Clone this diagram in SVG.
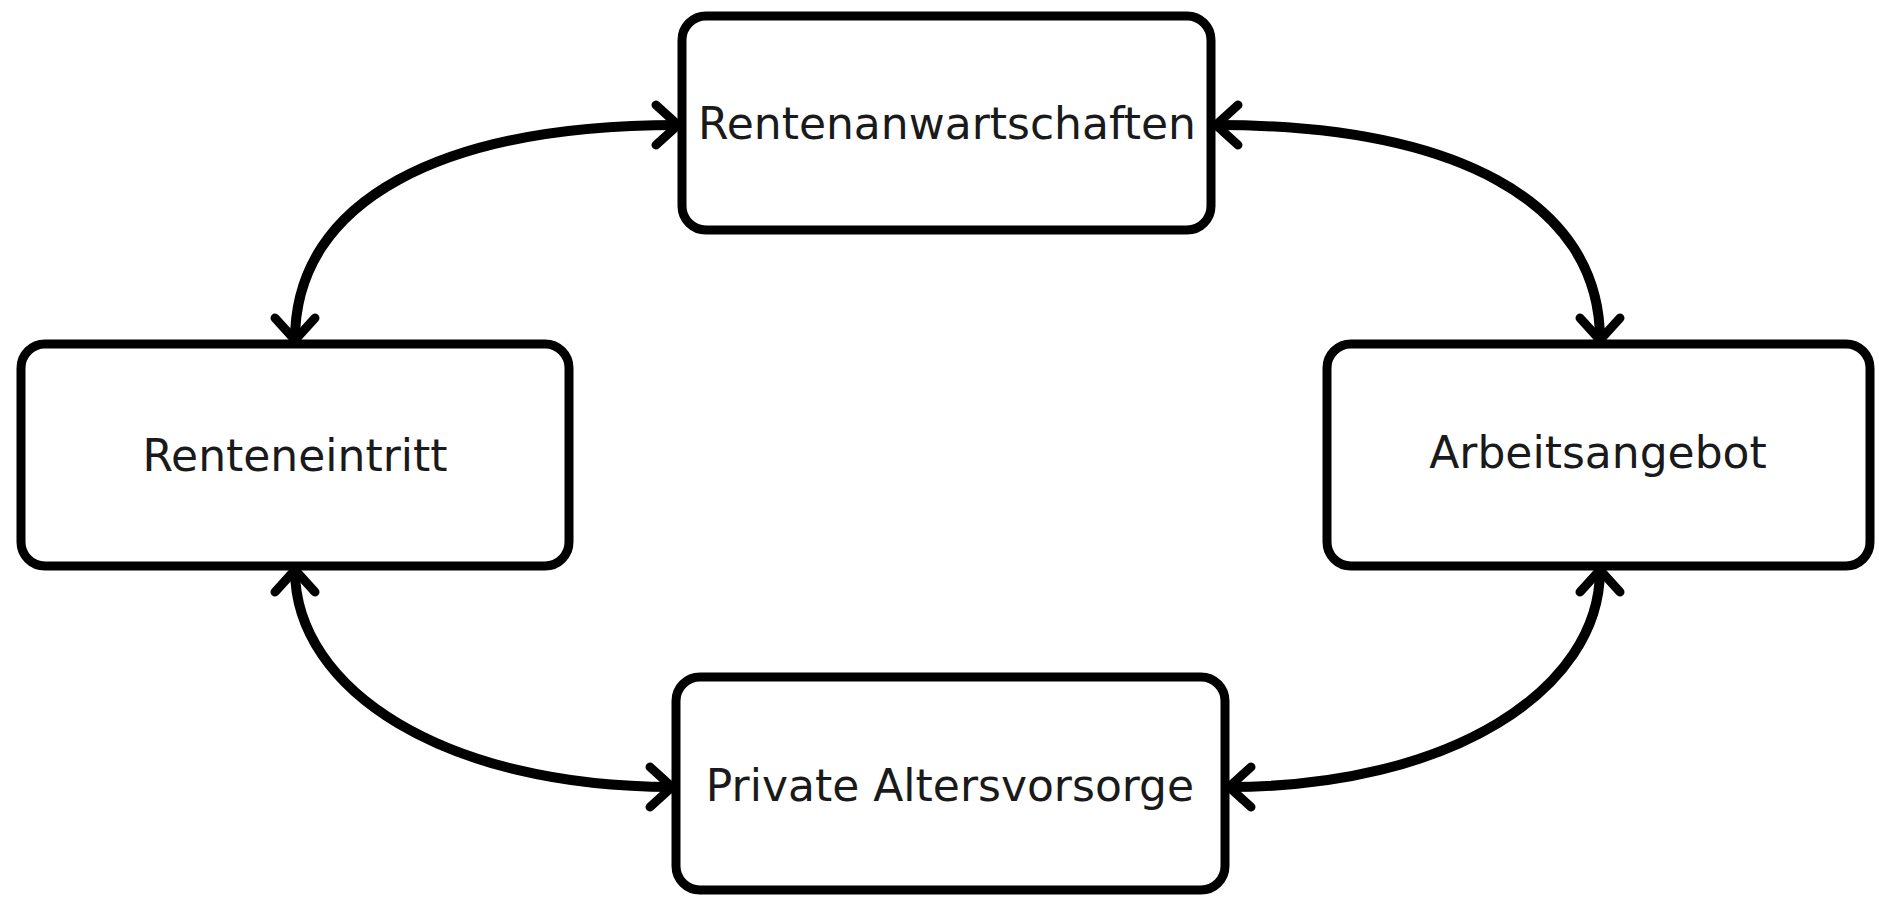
<svg xmlns="http://www.w3.org/2000/svg" width="1879" height="898" viewBox="0 0 1879 898">
<style>
.box{fill:#fff;stroke:#000;stroke-width:9}
.lbl{font-family:"DejaVu Sans",sans-serif;font-size:44px;fill:#1a1a1a;text-anchor:middle}
.con{fill:none;stroke:#000;stroke-width:10;marker-start:url(#arr);marker-end:url(#arr)}
</style>
<defs>
<marker id="arr" markerUnits="userSpaceOnUse" orient="auto-start-reverse" markerWidth="60" markerHeight="60" refX="0" refY="0" viewBox="-30 -30 60 60" overflow="visible">
<path d="M -22 -20 L 0 0 L -22 20" fill="none" stroke="#000" stroke-width="9" stroke-linecap="round" stroke-linejoin="miter"/>
</marker>
</defs>
<rect width="1879" height="898" fill="#fff"/>
<g id="connectors">
<path class="con" d="M 295 340 C 295 200, 442 125, 678 125"/>
<path class="con" d="M 1600 340 C 1600 200, 1453 125, 1216 125"/>
<path class="con" d="M 295 570 C 295 690, 445 787, 672 787"/>
<path class="con" d="M 1600 570 C 1600 690, 1450 787, 1229 787"/>
</g>
<g id="n_top">
<rect class="box" x="682" y="16" width="529" height="214" rx="24"/>
<text class="lbl" x="947" y="139">Rentenanwartschaften</text>
</g>
<g id="n_left">
<rect class="box" x="21" y="344" width="548" height="222" rx="24"/>
<text class="lbl" x="295" y="471">Renteneintritt</text>
</g>
<g id="n_right">
<rect class="box" x="1327" y="344" width="543" height="222" rx="24"/>
<text class="lbl" x="1598" y="468">Arbeitsangebot</text>
</g>
<g id="n_bottom">
<rect class="box" x="676" y="677" width="549" height="213" rx="24"/>
<text class="lbl" x="950" y="801">Private Altersvorsorge</text>
</g>
</svg>
